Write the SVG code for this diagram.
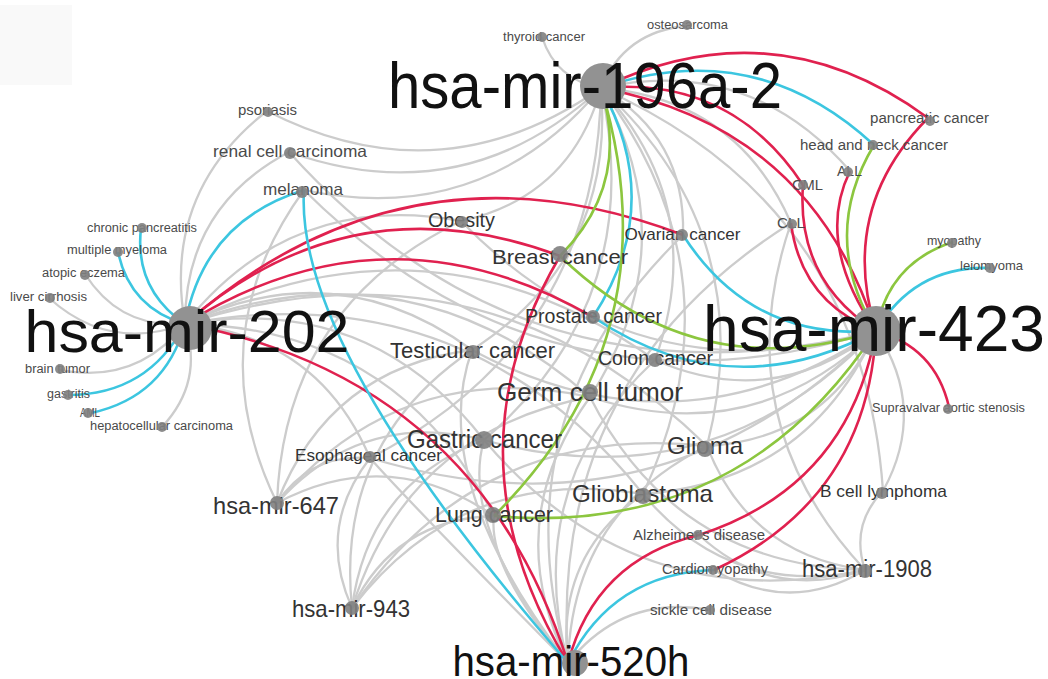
<svg xmlns="http://www.w3.org/2000/svg" width="1048" height="679" viewBox="0 0 1048 679">
<style>
.e{fill:none;stroke:#cccccc;stroke-width:2.3}
.r{fill:none;stroke:#e0214f;stroke-width:2.6}
.c{fill:none;stroke:#3cc6e0;stroke-width:2.6}
.n{fill:none;stroke:#8cc63f;stroke-width:2.6}
.nd{fill:#929292}
.sn{fill:#808080;fill-opacity:0.9}
text{font-family:"Liberation Sans",Arial,sans-serif;text-anchor:middle}
.h{fill:#111}
.m{fill:#333}
.s{fill:#4a4a4a}
</style>
<rect width="1048" height="679" fill="#fff"/>
<rect x="0" y="5" width="72" height="80" fill="#f9f9f9"/>
<g id="connectors">
<path class="e" d="M601 88Q556 80 542 37"/>
<path class="e" d="M601 88Q625 31 687 26"/>
<path class="e" d="M601 88Q441 200 267 111"/>
<path class="e" d="M601 88Q464 214 289 152"/>
<path class="e" d="M601 88Q483 228 304 190"/>
<path class="e" d="M601 88Q571 197 461 221"/>
<path class="e" d="M601 88Q686 137 683 235"/>
<path class="e" d="M601 88Q615 258 472 350"/>
<path class="e" d="M601 88Q688 246 590 397"/>
<path class="e" d="M601 88Q648 299 484 440"/>
<path class="e" d="M601 88Q761 235 707 446"/>
<path class="e" d="M601 88Q744 278 643 494"/>
<path class="e" d="M601 88Q710 208 655 360"/>
<path class="e" d="M601 88Q750 55 850 171"/>
<path class="e" d="M601 88Q737 99 791 223"/>
<path class="e" d="M601 88Q597 342 370 458"/>
<path class="e" d="M601 88Q863 205 883 491"/>
<path class="e" d="M185 324Q120 329 85 274"/>
<path class="e" d="M185 324Q109 352 49 298"/>
<path class="e" d="M185 324Q136 385 59 370"/>
<path class="e" d="M185 324Q204 382 162 427"/>
<path class="e" d="M185 324Q162 193 267 111"/>
<path class="e" d="M185 324Q185 207 289 152"/>
<path class="e" d="M185 324Q292 190 461 221"/>
<path class="e" d="M185 324Q336 251 472 350"/>
<path class="e" d="M185 324Q409 239 590 397"/>
<path class="e" d="M185 324Q369 292 484 440"/>
<path class="e" d="M185 324Q318 336 370 458"/>
<path class="e" d="M185 324Q431 201 655 360"/>
<path class="e" d="M185 324Q483 228 707 446"/>
<path class="e" d="M185 324Q465 272 643 494"/>
<path class="e" d="M185 324Q397 327 494 516"/>
<path class="e" d="M876 331Q636 401 461 221"/>
<path class="e" d="M876 331Q680 462 472 350"/>
<path class="e" d="M876 331Q753 450 590 397"/>
<path class="e" d="M876 331Q713 503 484 440"/>
<path class="e" d="M876 331Q826 439 707 446"/>
<path class="e" d="M876 331Q808 482 643 494"/>
<path class="e" d="M876 331Q774 412 655 360"/>
<path class="e" d="M876 331Q661 546 370 458"/>
<path class="e" d="M876 331Q928 409 883 491"/>
<path class="e" d="M876 331Q529 418 289 152"/>
<path class="e" d="M876 331Q548 432 304 190"/>
<path class="e" d="M568 663Q459 526 484 440"/>
<path class="e" d="M568 663Q572 513 707 446"/>
<path class="e" d="M568 663Q555 556 643 494"/>
<path class="e" d="M568 663Q487 567 494 516"/>
<path class="e" d="M568 663Q426 478 472 350"/>
<path class="e" d="M568 663Q499 523 590 397"/>
<path class="e" d="M568 663Q408 501 370 458"/>
<path class="e" d="M568 663Q521 485 655 360"/>
<path class="e" d="M568 663Q497 415 683 235"/>
<path class="e" d="M568 663Q548 376 791 223"/>
<path class="e" d="M568 663Q623 594 710 610"/>
<path class="e" d="M277 503Q310 453 370 458"/>
<path class="e" d="M277 503Q362 409 484 440"/>
<path class="e" d="M277 503Q329 368 472 350"/>
<path class="e" d="M277 503Q284 307 461 221"/>
<path class="e" d="M277 503Q402 356 590 397"/>
<path class="e" d="M277 503Q389 444 494 516"/>
<path class="e" d="M277 503Q197 338 304 190"/>
<path class="e" d="M352 608Q316 528 370 458"/>
<path class="e" d="M352 608Q368 484 484 440"/>
<path class="e" d="M352 608Q395 519 494 516"/>
<path class="e" d="M352 608Q335 443 472 350"/>
<path class="e" d="M352 608Q408 431 590 397"/>
<path class="e" d="M352 608Q481 421 707 446"/>
<path class="e" d="M352 608Q463 464 643 494"/>
<path class="e" d="M865 570Q850 525 883 491"/>
<path class="e" d="M865 570Q724 419 791 223"/>
<path class="e" d="M865 570Q749 555 707 446"/>
<path class="e" d="M865 570Q731 599 643 494"/>
<path class="e" d="M865 570Q772 602 699 535"/>
<path class="e" d="M865 570Q790 615 714 570"/>
<path class="e" d="M865 570Q636 619 484 440"/>
<path class="e" d="M865 570Q676 566 590 397"/>
<path class="r" d="M601 88Q774 5 928 118"/>
<path class="r" d="M601 88Q731 76 803 185"/>
<path class="r" d="M601 88Q811 127 876 331"/>
<path class="r" d="M876 331Q838 209 928 118"/>
<path class="r" d="M876 331Q815 243 850 171"/>
<path class="r" d="M876 331Q796 280 803 185"/>
<path class="r" d="M876 331Q801 302 791 223"/>
<path class="r" d="M876 331Q935 347 949 407"/>
<path class="r" d="M876 331Q849 486 699 535"/>
<path class="r" d="M876 331Q867 499 714 570"/>
<path class="r" d="M568 663Q595 560 699 535"/>
<path class="r" d="M568 663Q442 457 560 256"/>
<path class="r" d="M185 324Q478 379 568 663"/>
<path class="r" d="M185 324Q407 130 683 235"/>
<path class="r" d="M185 324Q352 178 560 256"/>
<path class="r" d="M185 324Q387 198 593 317"/>
<path class="c" d="M601 88Q755 35 874 145"/>
<path class="c" d="M601 88Q666 205 593 317"/>
<path class="c" d="M876 331Q730 409 593 317"/>
<path class="c" d="M876 331Q751 341 683 235"/>
<path class="c" d="M876 331Q915 265 991 268"/>
<path class="c" d="M185 324Q134 289 141 228"/>
<path class="c" d="M185 324Q130 308 118 252"/>
<path class="c" d="M185 324Q204 221 304 190"/>
<path class="c" d="M185 324Q148 395 68 395"/>
<path class="c" d="M185 324Q165 397 91 413"/>
<path class="c" d="M568 663Q294 347 304 190"/>
<path class="c" d="M568 663Q613 573 714 570"/>
<path class="n" d="M601 88Q631 184 560 256"/>
<path class="n" d="M601 88Q676 334 494 516"/>
<path class="n" d="M876 331Q696 388 560 256"/>
<path class="n" d="M876 331Q740 538 494 516"/>
<path class="n" d="M876 331Q819 237 874 145"/>
<path class="n" d="M876 331Q888 263 953 242"/>
</g>
<g id="n-mir196a2"><circle class="nd" cx="603" cy="86" r="23"/><text class="h" x="585" y="108" font-size="64" textLength="394" lengthAdjust="spacingAndGlyphs">hsa-mir-196a-2</text></g>
<g id="n-mir423"><circle class="nd" cx="876" cy="331" r="25"/><text class="h" x="874" y="351" font-size="64" textLength="342" lengthAdjust="spacingAndGlyphs">hsa-mir-423</text></g>
<g id="n-mir202"><circle class="nd" cx="190" cy="328" r="22"/><text class="h" x="187" y="352" font-size="60" textLength="325" lengthAdjust="spacingAndGlyphs">hsa-mir-202</text></g>
<g id="n-mir520h"><circle class="nd" cx="575" cy="663" r="13"/><text class="h" x="571" y="676" font-size="43" textLength="237" lengthAdjust="spacingAndGlyphs">hsa-mir-520h</text></g>
<g id="n-mir647"><text class="m" x="276" y="514" font-size="24" textLength="126" lengthAdjust="spacingAndGlyphs">hsa-mir-647</text><circle class="sn" cx="277" cy="503" r="7"/></g>
<g id="n-mir943"><text class="m" x="351" y="617" font-size="24" textLength="118" lengthAdjust="spacingAndGlyphs">hsa-mir-943</text><circle class="sn" cx="352" cy="608" r="7"/></g>
<g id="n-mir1908"><text class="m" x="867" y="577" font-size="23" textLength="130" lengthAdjust="spacingAndGlyphs">hsa-mir-1908</text><circle class="sn" cx="865" cy="571" r="7"/></g>
<g id="n-obesity"><text class="m" x="461.5" y="227" font-size="20" textLength="67" lengthAdjust="spacingAndGlyphs">Obesity</text><circle class="sn" cx="462" cy="222" r="6"/></g>
<g id="n-breast"><text class="m" x="560" y="264" font-size="21" textLength="136" lengthAdjust="spacingAndGlyphs">Breast cancer</text><circle class="sn" cx="560" cy="254" r="8"/></g>
<g id="n-ovarian"><text class="m" x="682.5" y="240" font-size="17" textLength="116" lengthAdjust="spacingAndGlyphs">Ovarian cancer</text><circle class="sn" cx="682" cy="235" r="6"/></g>
<g id="n-prostate"><text class="m" x="593.5" y="323" font-size="20" textLength="137" lengthAdjust="spacingAndGlyphs">Prostate cancer</text><circle class="sn" cx="593" cy="317" r="7"/></g>
<g id="n-testicular"><text class="m" x="472.5" y="358" font-size="22" textLength="165" lengthAdjust="spacingAndGlyphs">Testicular cancer</text><circle class="sn" cx="473" cy="352" r="7"/></g>
<g id="n-colon"><text class="m" x="655.5" y="365" font-size="20" textLength="115" lengthAdjust="spacingAndGlyphs">Colon cancer</text><circle class="sn" cx="655" cy="360" r="7"/></g>
<g id="n-germcell"><text class="m" x="590" y="401" font-size="26" textLength="186" lengthAdjust="spacingAndGlyphs">Germ cell tumor</text><circle class="sn" cx="590" cy="392" r="8"/></g>
<g id="n-gastric"><text class="m" x="484.5" y="448" font-size="25" textLength="155" lengthAdjust="spacingAndGlyphs">Gastric cancer</text><circle class="sn" cx="484" cy="440" r="9"/></g>
<g id="n-esophageal"><text class="m" x="368.5" y="461" font-size="17" textLength="147" lengthAdjust="spacingAndGlyphs">Esophageal cancer</text><circle class="sn" cx="370" cy="457" r="6"/></g>
<g id="n-glioma"><text class="m" x="705" y="454" font-size="24" textLength="76" lengthAdjust="spacingAndGlyphs">Glioma</text><circle class="sn" cx="705" cy="449" r="8"/></g>
<g id="n-glioblastoma"><text class="m" x="642.5" y="502" font-size="24" textLength="141" lengthAdjust="spacingAndGlyphs">Glioblastoma</text><circle class="sn" cx="643" cy="496" r="8"/></g>
<g id="n-lung"><text class="m" x="494" y="522" font-size="22" textLength="118" lengthAdjust="spacingAndGlyphs">Lung cancer</text><circle class="sn" cx="493" cy="515" r="8"/></g>
<g id="n-bcell"><text class="m" x="883.5" y="497" font-size="17" textLength="127" lengthAdjust="spacingAndGlyphs">B cell lymphoma</text><circle class="sn" cx="882" cy="493" r="6"/></g>
<g id="n-alzheimer"><text class="s" x="699" y="540" font-size="14" textLength="132" lengthAdjust="spacingAndGlyphs">Alzheimer's disease</text><circle class="sn" cx="698" cy="535" r="5"/></g>
<g id="n-cardio"><text class="s" x="715" y="574" font-size="14" textLength="106" lengthAdjust="spacingAndGlyphs">Cardiomyopathy</text><circle class="sn" cx="713" cy="570" r="5"/></g>
<g id="n-sickle"><text class="s" x="711" y="615" font-size="14.5" textLength="122" lengthAdjust="spacingAndGlyphs">sickle cell disease</text><circle class="sn" cx="710" cy="610" r="5"/></g>
<g id="n-sas"><text class="s" x="948.5" y="412" font-size="12.5" textLength="153" lengthAdjust="spacingAndGlyphs">Supravalvar aortic stenosis</text><circle class="sn" cx="948" cy="409" r="5"/></g>
<g id="n-pancreatic"><text class="s" x="929.5" y="123" font-size="14" textLength="119" lengthAdjust="spacingAndGlyphs">pancreatic cancer</text><circle class="sn" cx="930" cy="121" r="5"/></g>
<g id="n-headneck"><text class="s" x="874" y="150" font-size="14" textLength="148" lengthAdjust="spacingAndGlyphs">head and neck cancer</text><circle class="sn" cx="873" cy="145" r="5"/></g>
<g id="n-all"><text class="s" x="849.5" y="176" font-size="14" textLength="25" lengthAdjust="spacingAndGlyphs">ALL</text><circle class="sn" cx="848" cy="172" r="5"/></g>
<g id="n-cml"><text class="s" x="807.5" y="190" font-size="14" textLength="31" lengthAdjust="spacingAndGlyphs">CML</text><circle class="sn" cx="803" cy="185" r="5"/></g>
<g id="n-cll"><text class="s" x="791" y="228" font-size="15" textLength="28" lengthAdjust="spacingAndGlyphs">CLL</text><circle class="sn" cx="792" cy="224" r="5"/></g>
<g id="n-myopathy"><text class="s" x="954" y="245" font-size="13" textLength="54" lengthAdjust="spacingAndGlyphs">myopathy</text><circle class="sn" cx="952" cy="243" r="5"/></g>
<g id="n-leiomyoma"><text class="s" x="991.5" y="270" font-size="13" textLength="63" lengthAdjust="spacingAndGlyphs">leiomyoma</text><circle class="sn" cx="990" cy="268" r="5"/></g>
<g id="n-thyroid"><text class="s" x="544" y="41" font-size="12.5" textLength="82" lengthAdjust="spacingAndGlyphs">thyroid cancer</text><circle class="sn" cx="542" cy="37" r="5"/></g>
<g id="n-osteosarcoma"><text class="s" x="687.5" y="29" font-size="12.5" textLength="81" lengthAdjust="spacingAndGlyphs">osteosarcoma</text><circle class="sn" cx="687" cy="25" r="5"/></g>
<g id="n-psoriasis"><text class="s" x="267.5" y="115" font-size="14.5" textLength="59" lengthAdjust="spacingAndGlyphs">psoriasis</text><circle class="sn" cx="268" cy="112" r="5"/></g>
<g id="n-renal"><text class="s" x="290" y="157" font-size="16.5" textLength="154" lengthAdjust="spacingAndGlyphs">renal cell carcinoma</text><circle class="sn" cx="290" cy="153" r="6"/></g>
<g id="n-melanoma"><text class="s" x="303" y="195" font-size="16.5" textLength="80" lengthAdjust="spacingAndGlyphs">melanoma</text><circle class="sn" cx="302" cy="192" r="6"/></g>
<g id="n-chronicpanc"><text class="s" x="142" y="232" font-size="12.5" textLength="110" lengthAdjust="spacingAndGlyphs">chronic pancreatitis</text><circle class="sn" cx="142" cy="228" r="5"/></g>
<g id="n-myeloma"><text class="s" x="117" y="254" font-size="12.5" textLength="100" lengthAdjust="spacingAndGlyphs">multiple myeloma</text><circle class="sn" cx="118" cy="252" r="5"/></g>
<g id="n-eczema"><text class="s" x="83.5" y="277" font-size="12.5" textLength="83" lengthAdjust="spacingAndGlyphs">atopic eczema</text><circle class="sn" cx="85" cy="275" r="5"/></g>
<g id="n-cirrhosis"><text class="s" x="48.5" y="301" font-size="12.5" textLength="77" lengthAdjust="spacingAndGlyphs">liver cirrhosis</text><circle class="sn" cx="50" cy="298" r="5"/></g>
<g id="n-braintumor"><text class="s" x="57.5" y="373" font-size="12.5" textLength="65" lengthAdjust="spacingAndGlyphs">brain tumor</text><circle class="sn" cx="60" cy="369" r="5"/></g>
<g id="n-gastritis"><text class="s" x="68.5" y="398" font-size="12.5" textLength="43" lengthAdjust="spacingAndGlyphs">gastritis</text><circle class="sn" cx="68" cy="395" r="5"/></g>
<g id="n-aml"><text class="s" x="90" y="417" font-size="12" textLength="20" lengthAdjust="spacingAndGlyphs">AML</text><circle class="sn" cx="88" cy="413" r="5"/></g>
<g id="n-hcc"><text class="s" x="161.5" y="430" font-size="12.5" textLength="143" lengthAdjust="spacingAndGlyphs">hepatocellular carcinoma</text><circle class="sn" cx="162" cy="427" r="5"/></g>
</svg>
